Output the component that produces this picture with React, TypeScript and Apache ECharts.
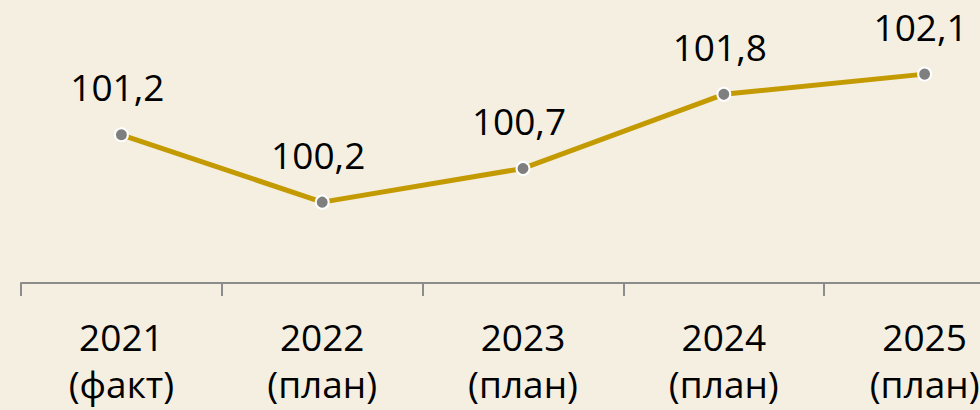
import React, { useEffect, useRef } from "react";
import * as echarts from "echarts";

const categories = ["2021\n(факт)", "2022\n(план)", "2023\n(план)", "2024\n(план)", "2025\n(план)"];
const values = [101.2, 100.2, 100.7, 101.8, 102.1];

export default function App() {
  const ref = useRef<HTMLDivElement>(null);
  useEffect(() => {
    document.body.style.margin = "0";
    document.body.style.background = "#F4EFE1";
    const chart = echarts.init(ref.current!, undefined, { renderer: "svg" });
    chart.setOption({
      animation: false,
      backgroundColor: "#F4EFE1",
      textStyle: { fontFamily: "Open Sans" },
      grid: { left: 21, top: 0, width: 1004, height: 283 },
      xAxis: {
        type: "category",
        data: categories,
        boundaryGap: true,
        axisLine: { lineStyle: { color: "#8C8C8C", width: 2 } },
        axisTick: { show: true, length: 13, lineStyle: { color: "#8C8C8C", width: 2 } },
        axisLabel: {
          color: "#000",
          fontSize: 37,
          fontFamily: "Open Sans",
          lineHeight: 47,
          margin: 30,
          interval: 0,
        },
      },
      yAxis: {
        type: "value",
        min: 99,
        max: 103.2,
        show: false,
        splitLine: { show: false },
      },
      series: [
        {
          type: "line",
          data: values,
          lineStyle: { color: "#C49A02", width: 5 },
          symbol: "circle",
          symbolSize: 13,
          itemStyle: { color: "#7F7F7F", borderColor: "#FFFFFF", borderWidth: 2 },
          label: {
            show: true,
            position: "top",
            distance: 22,
            offset: [-4, 0],
            color: "#000",
            fontSize: 37,
            fontFamily: "Open Sans",
            formatter: (p: any) => String(p.value).replace(".", ","),
          },
        },
      ],
    });
    return () => chart.dispose();
  }, []);
  return (
    <div style={{ width: 980, height: 410, overflow: "hidden", position: "relative" }}>
      <div ref={ref} style={{ width: 1030, height: 410 }} />
    </div>
  );
}
